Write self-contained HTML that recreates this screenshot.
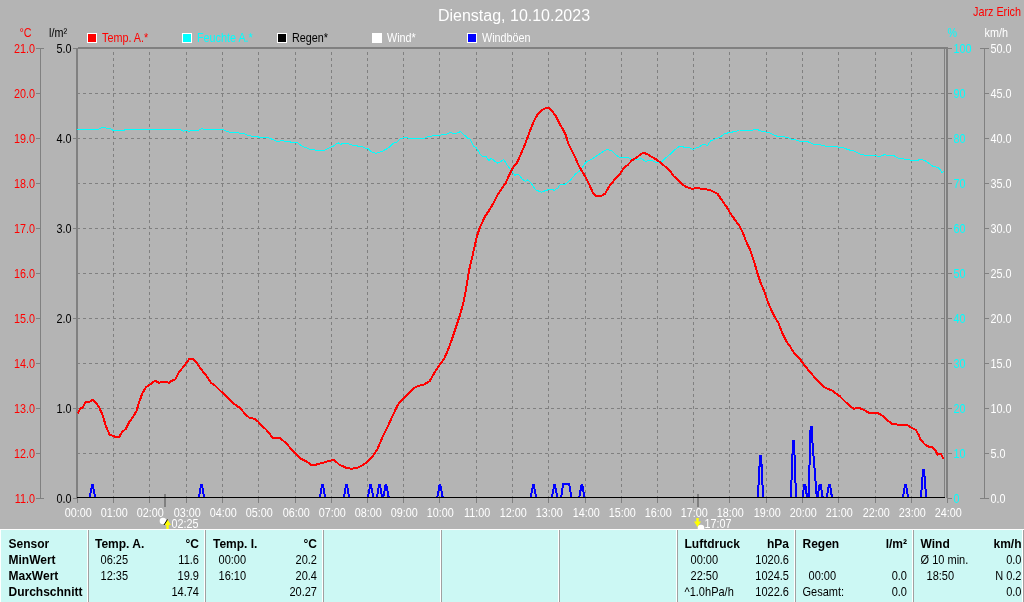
<!DOCTYPE html>
<html><head><meta charset="utf-8"><title>Dienstag, 10.10.2023</title>
<style>html,body{margin:0;padding:0;background:#b4b4b4;overflow:hidden;width:1024px;height:602px}</style>
</head><body>
<svg width="1024" height="602" viewBox="0 0 1024 602" style="display:block">
<rect x="0" y="0" width="1024" height="602" fill="#b4b4b4"/>
<g shape-rendering="crispEdges">
<line x1="77" y1="93.5" x2="944" y2="93.5" stroke="#808080" stroke-width="1" stroke-dasharray="3 3"/>
<line x1="77" y1="138.5" x2="944" y2="138.5" stroke="#808080" stroke-width="1" stroke-dasharray="3 3"/>
<line x1="77" y1="183.5" x2="944" y2="183.5" stroke="#808080" stroke-width="1" stroke-dasharray="3 3"/>
<line x1="77" y1="228.5" x2="944" y2="228.5" stroke="#808080" stroke-width="1" stroke-dasharray="3 3"/>
<line x1="77" y1="273.5" x2="944" y2="273.5" stroke="#808080" stroke-width="1" stroke-dasharray="3 3"/>
<line x1="77" y1="318.5" x2="944" y2="318.5" stroke="#808080" stroke-width="1" stroke-dasharray="3 3"/>
<line x1="77" y1="363.5" x2="944" y2="363.5" stroke="#808080" stroke-width="1" stroke-dasharray="3 3"/>
<line x1="77" y1="408.5" x2="944" y2="408.5" stroke="#808080" stroke-width="1" stroke-dasharray="3 3"/>
<line x1="77" y1="453.5" x2="944" y2="453.5" stroke="#808080" stroke-width="1" stroke-dasharray="3 3"/>
<line x1="113.5" y1="49" x2="113.5" y2="497" stroke="#808080" stroke-width="1" stroke-dasharray="3 3" stroke-dashoffset="3"/>
<line x1="149.5" y1="49" x2="149.5" y2="497" stroke="#808080" stroke-width="1" stroke-dasharray="3 3" stroke-dashoffset="3"/>
<line x1="186.5" y1="49" x2="186.5" y2="497" stroke="#808080" stroke-width="1" stroke-dasharray="3 3" stroke-dashoffset="3"/>
<line x1="222.5" y1="49" x2="222.5" y2="497" stroke="#808080" stroke-width="1" stroke-dasharray="3 3" stroke-dashoffset="3"/>
<line x1="258.5" y1="49" x2="258.5" y2="497" stroke="#808080" stroke-width="1" stroke-dasharray="3 3" stroke-dashoffset="3"/>
<line x1="295.5" y1="49" x2="295.5" y2="497" stroke="#808080" stroke-width="1" stroke-dasharray="3 3" stroke-dashoffset="3"/>
<line x1="331.5" y1="49" x2="331.5" y2="497" stroke="#808080" stroke-width="1" stroke-dasharray="3 3" stroke-dashoffset="3"/>
<line x1="367.5" y1="49" x2="367.5" y2="497" stroke="#808080" stroke-width="1" stroke-dasharray="3 3" stroke-dashoffset="3"/>
<line x1="403.5" y1="49" x2="403.5" y2="497" stroke="#808080" stroke-width="1" stroke-dasharray="3 3" stroke-dashoffset="3"/>
<line x1="439.5" y1="49" x2="439.5" y2="497" stroke="#808080" stroke-width="1" stroke-dasharray="3 3" stroke-dashoffset="3"/>
<line x1="476.5" y1="49" x2="476.5" y2="497" stroke="#808080" stroke-width="1" stroke-dasharray="3 3" stroke-dashoffset="3"/>
<line x1="512.5" y1="49" x2="512.5" y2="497" stroke="#808080" stroke-width="1" stroke-dasharray="3 3" stroke-dashoffset="3"/>
<line x1="548.5" y1="49" x2="548.5" y2="497" stroke="#808080" stroke-width="1" stroke-dasharray="3 3" stroke-dashoffset="3"/>
<line x1="585.5" y1="49" x2="585.5" y2="497" stroke="#808080" stroke-width="1" stroke-dasharray="3 3" stroke-dashoffset="3"/>
<line x1="621.5" y1="49" x2="621.5" y2="497" stroke="#808080" stroke-width="1" stroke-dasharray="3 3" stroke-dashoffset="3"/>
<line x1="657.5" y1="49" x2="657.5" y2="497" stroke="#808080" stroke-width="1" stroke-dasharray="3 3" stroke-dashoffset="3"/>
<line x1="693.5" y1="49" x2="693.5" y2="497" stroke="#808080" stroke-width="1" stroke-dasharray="3 3" stroke-dashoffset="3"/>
<line x1="729.5" y1="49" x2="729.5" y2="497" stroke="#808080" stroke-width="1" stroke-dasharray="3 3" stroke-dashoffset="3"/>
<line x1="766.5" y1="49" x2="766.5" y2="497" stroke="#808080" stroke-width="1" stroke-dasharray="3 3" stroke-dashoffset="3"/>
<line x1="802.5" y1="49" x2="802.5" y2="497" stroke="#808080" stroke-width="1" stroke-dasharray="3 3" stroke-dashoffset="3"/>
<line x1="838.5" y1="49" x2="838.5" y2="497" stroke="#808080" stroke-width="1" stroke-dasharray="3 3" stroke-dashoffset="3"/>
<line x1="875.5" y1="49" x2="875.5" y2="497" stroke="#808080" stroke-width="1" stroke-dasharray="3 3" stroke-dashoffset="3"/>
<line x1="911.5" y1="49" x2="911.5" y2="497" stroke="#808080" stroke-width="1" stroke-dasharray="3 3" stroke-dashoffset="3"/>
<rect x="77" y="498" width="1" height="5" fill="#808080"/>
<rect x="113" y="498" width="1" height="5" fill="#808080"/>
<rect x="149" y="498" width="1" height="5" fill="#808080"/>
<rect x="186" y="498" width="1" height="5" fill="#808080"/>
<rect x="222" y="498" width="1" height="5" fill="#808080"/>
<rect x="258" y="498" width="1" height="5" fill="#808080"/>
<rect x="295" y="498" width="1" height="5" fill="#808080"/>
<rect x="331" y="498" width="1" height="5" fill="#808080"/>
<rect x="367" y="498" width="1" height="5" fill="#808080"/>
<rect x="403" y="498" width="1" height="5" fill="#808080"/>
<rect x="439" y="498" width="1" height="5" fill="#808080"/>
<rect x="476" y="498" width="1" height="5" fill="#808080"/>
<rect x="512" y="498" width="1" height="5" fill="#808080"/>
<rect x="548" y="498" width="1" height="5" fill="#808080"/>
<rect x="585" y="498" width="1" height="5" fill="#808080"/>
<rect x="621" y="498" width="1" height="5" fill="#808080"/>
<rect x="657" y="498" width="1" height="5" fill="#808080"/>
<rect x="693" y="498" width="1" height="5" fill="#808080"/>
<rect x="729" y="498" width="1" height="5" fill="#808080"/>
<rect x="766" y="498" width="1" height="5" fill="#808080"/>
<rect x="802" y="498" width="1" height="5" fill="#808080"/>
<rect x="838" y="498" width="1" height="5" fill="#808080"/>
<rect x="875" y="498" width="1" height="5" fill="#808080"/>
<rect x="911" y="498" width="1" height="5" fill="#808080"/>
<rect x="947" y="498" width="1" height="5" fill="#808080"/>
<rect x="164" y="494" width="2" height="13" fill="#808080"/>
<rect x="697" y="494" width="2" height="13" fill="#808080"/>
<rect x="78" y="47" width="870" height="2" fill="#808080"/>
<rect x="76" y="48" width="2" height="450" fill="#808080"/>
<rect x="946" y="47" width="2" height="451" fill="#808080"/>
<rect x="944" y="48" width="1" height="450" fill="#808080"/>
<rect x="40" y="48" width="1" height="451" fill="#808080"/>
<rect x="36" y="48" width="8" height="1" fill="#808080"/>
<rect x="36" y="498" width="8" height="1" fill="#808080"/>
<rect x="36" y="93" width="4" height="1" fill="#808080"/>
<rect x="36" y="138" width="4" height="1" fill="#808080"/>
<rect x="36" y="183" width="4" height="1" fill="#808080"/>
<rect x="36" y="228" width="4" height="1" fill="#808080"/>
<rect x="36" y="273" width="4" height="1" fill="#808080"/>
<rect x="36" y="318" width="4" height="1" fill="#808080"/>
<rect x="36" y="363" width="4" height="1" fill="#808080"/>
<rect x="36" y="408" width="4" height="1" fill="#808080"/>
<rect x="36" y="453" width="4" height="1" fill="#808080"/>
<rect x="36" y="498" width="4" height="1" fill="#808080"/>
<rect x="36" y="543" width="4" height="1" fill="#808080"/>
<rect x="73" y="48" width="5" height="1" fill="#808080"/>
<rect x="73" y="138" width="4" height="1" fill="#808080"/>
<rect x="73" y="228" width="4" height="1" fill="#808080"/>
<rect x="73" y="318" width="4" height="1" fill="#808080"/>
<rect x="73" y="408" width="4" height="1" fill="#808080"/>
<rect x="73" y="498" width="4" height="1" fill="#808080"/>
<rect x="948" y="48" width="4" height="1" fill="#808080"/>
<rect x="948" y="93" width="4" height="1" fill="#808080"/>
<rect x="948" y="138" width="4" height="1" fill="#808080"/>
<rect x="948" y="183" width="4" height="1" fill="#808080"/>
<rect x="948" y="228" width="4" height="1" fill="#808080"/>
<rect x="948" y="273" width="4" height="1" fill="#808080"/>
<rect x="948" y="318" width="4" height="1" fill="#808080"/>
<rect x="948" y="363" width="4" height="1" fill="#808080"/>
<rect x="948" y="408" width="4" height="1" fill="#808080"/>
<rect x="948" y="453" width="4" height="1" fill="#808080"/>
<rect x="948" y="498" width="4" height="1" fill="#808080"/>
<rect x="948" y="543" width="4" height="1" fill="#808080"/>
<rect x="984" y="48" width="1" height="451" fill="#808080"/>
<rect x="980" y="48" width="9" height="1" fill="#808080"/>
<rect x="980" y="498" width="9" height="1" fill="#808080"/>
<rect x="985" y="93" width="4" height="1" fill="#808080"/>
<rect x="985" y="138" width="4" height="1" fill="#808080"/>
<rect x="985" y="183" width="4" height="1" fill="#808080"/>
<rect x="985" y="228" width="4" height="1" fill="#808080"/>
<rect x="985" y="273" width="4" height="1" fill="#808080"/>
<rect x="985" y="318" width="4" height="1" fill="#808080"/>
<rect x="985" y="363" width="4" height="1" fill="#808080"/>
<rect x="985" y="408" width="4" height="1" fill="#808080"/>
<rect x="985" y="453" width="4" height="1" fill="#808080"/>
<rect x="985" y="498" width="4" height="1" fill="#808080"/>
<rect x="985" y="543" width="4" height="1" fill="#808080"/>
</g>
<polyline points="77,129.4 98.1,129.4 101.6,127.7 105.1,127.7 106.9,128.4 110.4,128.4 113.1,130.5 123.6,130.5 125.4,129.4 179.8,129.4 183.4,131.3 186,130.5 188.6,131.3 191.3,130.5 198.3,130.5 201.8,128.4 203.6,129.4 222.9,129.4 225.5,130.8 230,132.2 237.8,132.6 239.6,133.3 244,133.6 248.5,135.5 252,136.3 257.3,136.7 259.9,137.4 267.8,137.4 271.4,139 276.6,141.3 279.3,141.3 281.9,140.4 284.5,141.3 288.9,141.3 290.7,142.1 296.8,142.1 299.5,144.3 303,146.7 307.4,148.1 310,149.3 313.5,149.3 316.2,150.9 323.2,150.9 325.8,149.5 328.5,148.1 332.9,146.4 335.5,144.6 338.1,142.8 340.8,144.3 343.4,143.2 346.9,143.2 350.4,144.6 353.1,145.5 356.6,145.5 358.4,146.4 361.9,146.4 365.4,148.1 368,148.5 370.7,151.3 373.3,152.5 375.9,153.4 378.6,152.5 382.1,151.3 385.6,149.5 388.2,148.1 391.8,144.6 394.4,142.5 397,142 399.7,139.3 402.3,138.1 405.8,137.2 408.4,138.3 424.6,138.3 427.2,137 431.6,136.2 433.4,135.5 439.5,135.5 442.2,134.4 446.6,134.1 450.1,132.3 452.7,133.4 457.1,133 460.6,131.6 464.1,134.9 467.7,138.1 470.3,139.3 472.1,142.8 473.8,146.4 476.4,147.8 479.1,152.5 481.7,156 486.1,156.6 488.8,160.8 491.4,158.3 494.9,161.3 497.5,163.1 500.2,161.8 503.7,159.5 506.7,164.3 510.2,169 514.9,175.2 518.4,174.1 521.9,178.7 525.3,181.5 527.7,179.9 531.2,183.4 535.8,189.9 541.6,192.2 546.3,190.3 550.9,189.2 554.4,190.3 557.9,188 560.2,184.5 564.9,184.5 570.7,179.9 575.3,174.1 580,170.6 585.8,162.4 594,157.8 600.9,153.1 604,150.9 607,149.5 612,150.9 615.9,154.9 619.9,157.8 624.9,157.8 626.9,156.9 631.9,159.8 636.9,159.8 640.8,158.2 645.8,161.4 648.8,160.2 652.8,160.8 656.8,162.8 661.8,161.8 665.7,157.8 670.7,153.9 674.7,149.9 678.7,146.9 681.7,146.3 685.7,147.9 688.6,147.5 692.6,149.5 696.6,147.9 699.6,146.9 702.6,144.3 707.6,145.3 710.6,140.9 715.5,138.9 719.5,137.5 724.5,133.9 729.5,132.4 735.5,131.6 739.4,130 752.3,130.4 754.4,129.4 757.4,129.4 760.5,131 764.6,131.4 766.7,132.4 769.7,133 774.9,135.5 777.9,136.5 783.1,136.5 788.2,137.6 791.3,139.2 795.4,139.6 799.5,141.3 805.6,141.3 809.7,142.3 813.8,144.3 819,144.7 824.1,145.4 826.1,146.4 836.4,146.4 839.5,147.4 843.6,147.8 848.7,149.9 852.8,150.5 855.9,151.9 860,154 863,154.4 865.1,155.6 875.4,155.6 878.4,156.4 881.5,156 884.6,154.4 887.7,155.6 893.8,155.6 897.9,158.1 904.1,159.1 910.2,160.1 918.4,160.1 920.5,159.1 924.6,160.5 928.7,163.2 932.8,166.3 937.9,167.3 940,169.3 942,172.8 944,170.8" fill="none" stroke="#00ffff" stroke-width="1" shape-rendering="crispEdges" stroke-linejoin="round"/>
<polyline points="89.8,497 92.1,484.5 92.7,484.5 95.0,497" fill="none" stroke="#0000ff" stroke-width="2" shape-rendering="crispEdges"/>
<polyline points="198.9,497 201.2,484.5 201.8,484.5 204.1,497" fill="none" stroke="#0000ff" stroke-width="2" shape-rendering="crispEdges"/>
<polyline points="319.9,497 322.2,484.5 322.8,484.5 325.1,497" fill="none" stroke="#0000ff" stroke-width="2" shape-rendering="crispEdges"/>
<polyline points="343.9,497 346.2,484.5 346.8,484.5 349.1,497" fill="none" stroke="#0000ff" stroke-width="2" shape-rendering="crispEdges"/>
<polyline points="368.0,497 370.3,484.5 370.9,484.5 373.2,497" fill="none" stroke="#0000ff" stroke-width="2" shape-rendering="crispEdges"/>
<polyline points="376.9,497 379.2,484.5 379.8,484.5 382.1,497" fill="none" stroke="#0000ff" stroke-width="2" shape-rendering="crispEdges"/>
<polyline points="383.4,497 385.7,484.5 386.3,484.5 388.6,497" fill="none" stroke="#0000ff" stroke-width="2" shape-rendering="crispEdges"/>
<polyline points="437.4,497 439.7,484.5 440.3,484.5 442.6,497" fill="none" stroke="#0000ff" stroke-width="2" shape-rendering="crispEdges"/>
<polyline points="530.8,497 533.1,484.5 533.7,484.5 536.0,497" fill="none" stroke="#0000ff" stroke-width="2" shape-rendering="crispEdges"/>
<polyline points="552.0,497 554.3,484.5 554.9,484.5 557.2,497" fill="none" stroke="#0000ff" stroke-width="2" shape-rendering="crispEdges"/>
<polyline points="579.3,497 581.6,484.5 582.2,484.5 584.5,497" fill="none" stroke="#0000ff" stroke-width="2" shape-rendering="crispEdges"/>
<polyline points="902.9,497 905.2,484.5 905.8,484.5 908.1,497" fill="none" stroke="#0000ff" stroke-width="2" shape-rendering="crispEdges"/>
<polyline points="561.2,497 563.2,483.5 569,483.5 571.5,497" fill="none" stroke="#0000ff" stroke-width="2" shape-rendering="crispEdges"/>
<polyline points="757.9,497 760.1,455.5 761.1,455.5 763.1,497" fill="none" stroke="#0000ff" stroke-width="2" shape-rendering="crispEdges"/>
<polyline points="790.9,497 793.0,440.5 794.0,440.5 796.0,497" fill="none" stroke="#0000ff" stroke-width="2" shape-rendering="crispEdges"/>
<polyline points="802.6,497 804.3,484.5 805.3,484.5 807,497 808.6,497 810.6,426.5 811.6,426.5 812.8,448 814.5,468 816.4,493 817.5,497 819.6,484.5 820.6,484.5 822.6,497" fill="none" stroke="#0000ff" stroke-width="2" shape-rendering="crispEdges"/>
<polyline points="826.9,497 828.9,484.5 829.9,484.5 831.9,497" fill="none" stroke="#0000ff" stroke-width="2" shape-rendering="crispEdges"/>
<polyline points="921,497 923.1,469.5 924.0,469.5 926.1,497" fill="none" stroke="#0000ff" stroke-width="2" shape-rendering="crispEdges"/>
<polyline points="78,413.3 80.2,408.6 82.7,407.3 85.7,401.7 89.8,401.7 92.9,399.7 95.4,402.2 99.2,407.3 102.5,414.9 105.6,425.1 109.4,434.5 114.4,436.5 119.5,436.5 122.1,431.9 125.9,428.9 129.7,421.3 133.5,416.2 136.5,411.1 139.1,402.2 142.4,393.3 146.2,387 150,384.4 155.1,380.6 158.9,382.7 164,381.9 169,382.7 172.8,380.1 175.4,379.4 179.2,371.7 183,367.4 186.8,362.3 189.3,359 193.2,359 197,363.4 202,370.5 207.1,376.8 210.9,382.7 214.7,385.2 222.4,392.8 230,400.4 236.3,405.5 240.1,408.1 245.2,414.1 249,417.5 254.1,418.7 257.9,421.3 261.7,425.8 265.5,428.9 270.6,435.2 273.1,437.8 279.5,437.8 285.8,442.8 290.9,448.7 297.3,455.5 301.1,458.8 307.4,461.9 311.2,465.2 315.1,464.9 318.9,463.9 324,462.5 330.2,460.6 334,459.9 339,464.4 345.4,467.5 350.5,468.7 356.8,468.2 361.9,465.7 367,461.9 373.3,455.5 377.1,449.7 382.2,437.8 387.3,427.6 392.4,416.2 397.5,405.5 401.3,400.4 407.6,394.6 412.7,388.8 417.8,386.2 424.1,384.4 429.7,381.1 434.3,373 439.3,365.4 443.9,359 447,352.7 448.1,349.5 450.8,342.5 452.8,336.7 456.3,326.3 459.8,315.8 463.3,303 465.6,291.4 467.9,277.4 469.8,267 472.6,255.3 474.9,244.9 477.2,235.6 479.5,228.6 481.5,224 485,216.5 489.3,210.1 494,202 497.4,195 502.1,188 505.6,183.4 509.1,175.2 512.6,168.3 517.2,162.4 520.7,154.3 524.2,146.2 527.7,136.9 531.2,127.6 534.7,119.4 538.1,113.6 541.6,110.1 546.3,107.8 548.6,107.8 552.1,111.3 555.6,115.9 559.1,122.9 562.6,128.7 566,135.7 568.4,143.8 571.9,150.8 575.3,157.8 578.8,165.9 582.3,171.7 585.8,177.6 589.3,184.5 592.8,192.7 596.3,196.2 600.9,196.2 605,193.7 609,186.7 613.9,180.4 618.9,175.4 623.9,167.8 627.9,164.8 631.9,160.4 636.9,157.5 640.8,153.9 643.8,152.9 647.8,154.3 651.8,156.9 656.8,159.8 661.8,163.8 666.7,167.8 670.7,171.8 673.7,176.2 677.7,179.8 681.7,184.1 685.7,186.7 691.6,188.7 697.6,188.1 703.6,189.3 709.6,189.7 713.5,191.7 717.5,193.7 721.5,199.7 726.5,206.7 730.5,213.6 735.5,220.6 739.4,225.6 742.4,231.6 745.8,240.5 750.5,250.9 754,261.4 757.4,273 760.9,283.5 764.4,291.6 767.9,302.1 771.4,310.2 774.9,317.2 778.4,323 781.9,332.3 786.5,341.6 790,346.3 793.5,352.1 799.3,357.9 802.8,363.2 805,366 809,370.9 813,375.5 818,380.9 822.9,386.3 827.9,388.9 831.9,390.5 835.9,393.5 839.9,396.3 844.9,401.5 849.9,405.9 853.9,408.8 858.8,407.8 863.8,409.8 868.8,412.8 875.8,412.8 879.8,413.8 884.8,417.8 888.8,421.4 891.8,423.8 898.7,424.8 907.7,425.4 911.7,427.8 915.7,429.8 918.7,434.8 920.7,439.8 924.7,444.2 928.7,446.7 931.7,447.1 935.6,450.7 937.6,454.7 940.6,453.7 943.6,458.7" fill="none" stroke="#ff0000" stroke-width="2" shape-rendering="crispEdges" stroke-linejoin="round"/>
<rect x="77" y="497" width="868" height="1" fill="#000"/>
<g><rect x="87.5" y="33.5" width="9" height="9" fill="#ff0000" stroke="#ffffff" stroke-width="1"/><rect x="182.5" y="33.5" width="9" height="9" fill="#00ffff" stroke="#ffffff" stroke-width="1"/><rect x="277.5" y="33.5" width="9" height="9" fill="#000000" stroke="#ffffff" stroke-width="1"/><rect x="372.5" y="33.5" width="9" height="9" fill="#ffffff" stroke="#ffffff" stroke-width="1"/><rect x="467.5" y="33.5" width="9" height="9" fill="#0000ff" stroke="#ffffff" stroke-width="1"/></g>
<g font-family="'Liberation Sans', Arial, sans-serif"><text x="514" y="21" fill="#ffffff" font-size="16" text-anchor="middle" font-weight="normal" >Dienstag, 10.10.2023</text><text transform="translate(1021 16) scale(0.9 1)" fill="#ff0000" font-size="12" text-anchor="end" font-weight="normal" >Jarz Erich</text><text transform="translate(19.5 37) scale(0.9 1)" fill="#ff0000" font-size="12" text-anchor="start" font-weight="normal" >°C</text><text transform="translate(49 37) scale(0.9 1)" fill="#000000" font-size="12" text-anchor="start" font-weight="normal" >l/m²</text><text transform="translate(947.5 36.5) scale(0.9 1)" fill="#00ffff" font-size="12" text-anchor="start" font-weight="normal" >%</text><text transform="translate(984.5 37) scale(0.9 1)" fill="#ffffff" font-size="12" text-anchor="start" font-weight="normal" >km/h</text><text transform="translate(102 42) scale(0.9 1)" fill="#ff0000" font-size="12" text-anchor="start" font-weight="normal" >Temp. A.*</text><text transform="translate(197 42) scale(0.9 1)" fill="#00ffff" font-size="12" text-anchor="start" font-weight="normal" >Feuchte A.*</text><text transform="translate(292 42) scale(0.9 1)" fill="#000000" font-size="12" text-anchor="start" font-weight="normal" >Regen*</text><text transform="translate(387 42) scale(0.9 1)" fill="#ffffff" font-size="12" text-anchor="start" font-weight="normal" >Wind*</text><text transform="translate(482 42) scale(0.9 1)" fill="#ffffff" font-size="12" text-anchor="start" font-weight="normal" >Windböen</text><text transform="translate(35 53) scale(0.9 1)" fill="#ff0000" font-size="12" text-anchor="end" font-weight="normal" >21.0</text><text transform="translate(35 98) scale(0.9 1)" fill="#ff0000" font-size="12" text-anchor="end" font-weight="normal" >20.0</text><text transform="translate(35 143) scale(0.9 1)" fill="#ff0000" font-size="12" text-anchor="end" font-weight="normal" >19.0</text><text transform="translate(35 188) scale(0.9 1)" fill="#ff0000" font-size="12" text-anchor="end" font-weight="normal" >18.0</text><text transform="translate(35 233) scale(0.9 1)" fill="#ff0000" font-size="12" text-anchor="end" font-weight="normal" >17.0</text><text transform="translate(35 278) scale(0.9 1)" fill="#ff0000" font-size="12" text-anchor="end" font-weight="normal" >16.0</text><text transform="translate(35 323) scale(0.9 1)" fill="#ff0000" font-size="12" text-anchor="end" font-weight="normal" >15.0</text><text transform="translate(35 368) scale(0.9 1)" fill="#ff0000" font-size="12" text-anchor="end" font-weight="normal" >14.0</text><text transform="translate(35 413) scale(0.9 1)" fill="#ff0000" font-size="12" text-anchor="end" font-weight="normal" >13.0</text><text transform="translate(35 458) scale(0.9 1)" fill="#ff0000" font-size="12" text-anchor="end" font-weight="normal" >12.0</text><text transform="translate(35 503) scale(0.9 1)" fill="#ff0000" font-size="12" text-anchor="end" font-weight="normal" >11.0</text><text transform="translate(35 548) scale(0.9 1)" fill="#ff0000" font-size="12" text-anchor="end" font-weight="normal" >10.0</text><text transform="translate(71.5 53) scale(0.9 1)" fill="#000000" font-size="12" text-anchor="end" font-weight="normal" >5.0</text><text transform="translate(71.5 143) scale(0.9 1)" fill="#000000" font-size="12" text-anchor="end" font-weight="normal" >4.0</text><text transform="translate(71.5 233) scale(0.9 1)" fill="#000000" font-size="12" text-anchor="end" font-weight="normal" >3.0</text><text transform="translate(71.5 323) scale(0.9 1)" fill="#000000" font-size="12" text-anchor="end" font-weight="normal" >2.0</text><text transform="translate(71.5 413) scale(0.9 1)" fill="#000000" font-size="12" text-anchor="end" font-weight="normal" >1.0</text><text transform="translate(71.5 503) scale(0.9 1)" fill="#000000" font-size="12" text-anchor="end" font-weight="normal" >0.0</text><text transform="translate(953.5 53) scale(0.9 1)" fill="#00ffff" font-size="12" text-anchor="start" font-weight="normal" >100</text><text transform="translate(990.5 53) scale(0.9 1)" fill="#ffffff" font-size="12" text-anchor="start" font-weight="normal" >50.0</text><text transform="translate(953.5 98) scale(0.9 1)" fill="#00ffff" font-size="12" text-anchor="start" font-weight="normal" >90</text><text transform="translate(990.5 98) scale(0.9 1)" fill="#ffffff" font-size="12" text-anchor="start" font-weight="normal" >45.0</text><text transform="translate(953.5 143) scale(0.9 1)" fill="#00ffff" font-size="12" text-anchor="start" font-weight="normal" >80</text><text transform="translate(990.5 143) scale(0.9 1)" fill="#ffffff" font-size="12" text-anchor="start" font-weight="normal" >40.0</text><text transform="translate(953.5 188) scale(0.9 1)" fill="#00ffff" font-size="12" text-anchor="start" font-weight="normal" >70</text><text transform="translate(990.5 188) scale(0.9 1)" fill="#ffffff" font-size="12" text-anchor="start" font-weight="normal" >35.0</text><text transform="translate(953.5 233) scale(0.9 1)" fill="#00ffff" font-size="12" text-anchor="start" font-weight="normal" >60</text><text transform="translate(990.5 233) scale(0.9 1)" fill="#ffffff" font-size="12" text-anchor="start" font-weight="normal" >30.0</text><text transform="translate(953.5 278) scale(0.9 1)" fill="#00ffff" font-size="12" text-anchor="start" font-weight="normal" >50</text><text transform="translate(990.5 278) scale(0.9 1)" fill="#ffffff" font-size="12" text-anchor="start" font-weight="normal" >25.0</text><text transform="translate(953.5 323) scale(0.9 1)" fill="#00ffff" font-size="12" text-anchor="start" font-weight="normal" >40</text><text transform="translate(990.5 323) scale(0.9 1)" fill="#ffffff" font-size="12" text-anchor="start" font-weight="normal" >20.0</text><text transform="translate(953.5 368) scale(0.9 1)" fill="#00ffff" font-size="12" text-anchor="start" font-weight="normal" >30</text><text transform="translate(990.5 368) scale(0.9 1)" fill="#ffffff" font-size="12" text-anchor="start" font-weight="normal" >15.0</text><text transform="translate(953.5 413) scale(0.9 1)" fill="#00ffff" font-size="12" text-anchor="start" font-weight="normal" >20</text><text transform="translate(990.5 413) scale(0.9 1)" fill="#ffffff" font-size="12" text-anchor="start" font-weight="normal" >10.0</text><text transform="translate(953.5 458) scale(0.9 1)" fill="#00ffff" font-size="12" text-anchor="start" font-weight="normal" >10</text><text transform="translate(990.5 458) scale(0.9 1)" fill="#ffffff" font-size="12" text-anchor="start" font-weight="normal" >5.0</text><text transform="translate(953.5 503) scale(0.9 1)" fill="#00ffff" font-size="12" text-anchor="start" font-weight="normal" >0</text><text transform="translate(990.5 503) scale(0.9 1)" fill="#ffffff" font-size="12" text-anchor="start" font-weight="normal" >0.0</text><text transform="translate(953.5 548) scale(0.9 1)" fill="#00ffff" font-size="12" text-anchor="start" font-weight="normal" >-10</text><text transform="translate(990.5 548) scale(0.9 1)" fill="#ffffff" font-size="12" text-anchor="start" font-weight="normal" >-5.0</text><text transform="translate(78.2 517) scale(0.9 1)" fill="#ffffff" font-size="12" text-anchor="middle" font-weight="normal" >00:00</text><text transform="translate(114.2 517) scale(0.9 1)" fill="#ffffff" font-size="12" text-anchor="middle" font-weight="normal" >01:00</text><text transform="translate(150.2 517) scale(0.9 1)" fill="#ffffff" font-size="12" text-anchor="middle" font-weight="normal" >02:00</text><text transform="translate(187.2 517) scale(0.9 1)" fill="#ffffff" font-size="12" text-anchor="middle" font-weight="normal" >03:00</text><text transform="translate(223.2 517) scale(0.9 1)" fill="#ffffff" font-size="12" text-anchor="middle" font-weight="normal" >04:00</text><text transform="translate(259.2 517) scale(0.9 1)" fill="#ffffff" font-size="12" text-anchor="middle" font-weight="normal" >05:00</text><text transform="translate(296.2 517) scale(0.9 1)" fill="#ffffff" font-size="12" text-anchor="middle" font-weight="normal" >06:00</text><text transform="translate(332.2 517) scale(0.9 1)" fill="#ffffff" font-size="12" text-anchor="middle" font-weight="normal" >07:00</text><text transform="translate(368.2 517) scale(0.9 1)" fill="#ffffff" font-size="12" text-anchor="middle" font-weight="normal" >08:00</text><text transform="translate(404.2 517) scale(0.9 1)" fill="#ffffff" font-size="12" text-anchor="middle" font-weight="normal" >09:00</text><text transform="translate(440.2 517) scale(0.9 1)" fill="#ffffff" font-size="12" text-anchor="middle" font-weight="normal" >10:00</text><text transform="translate(477.2 517) scale(0.9 1)" fill="#ffffff" font-size="12" text-anchor="middle" font-weight="normal" >11:00</text><text transform="translate(513.2 517) scale(0.9 1)" fill="#ffffff" font-size="12" text-anchor="middle" font-weight="normal" >12:00</text><text transform="translate(549.2 517) scale(0.9 1)" fill="#ffffff" font-size="12" text-anchor="middle" font-weight="normal" >13:00</text><text transform="translate(586.2 517) scale(0.9 1)" fill="#ffffff" font-size="12" text-anchor="middle" font-weight="normal" >14:00</text><text transform="translate(622.2 517) scale(0.9 1)" fill="#ffffff" font-size="12" text-anchor="middle" font-weight="normal" >15:00</text><text transform="translate(658.2 517) scale(0.9 1)" fill="#ffffff" font-size="12" text-anchor="middle" font-weight="normal" >16:00</text><text transform="translate(694.2 517) scale(0.9 1)" fill="#ffffff" font-size="12" text-anchor="middle" font-weight="normal" >17:00</text><text transform="translate(730.2 517) scale(0.9 1)" fill="#ffffff" font-size="12" text-anchor="middle" font-weight="normal" >18:00</text><text transform="translate(767.2 517) scale(0.9 1)" fill="#ffffff" font-size="12" text-anchor="middle" font-weight="normal" >19:00</text><text transform="translate(803.2 517) scale(0.9 1)" fill="#ffffff" font-size="12" text-anchor="middle" font-weight="normal" >20:00</text><text transform="translate(839.2 517) scale(0.9 1)" fill="#ffffff" font-size="12" text-anchor="middle" font-weight="normal" >21:00</text><text transform="translate(876.2 517) scale(0.9 1)" fill="#ffffff" font-size="12" text-anchor="middle" font-weight="normal" >22:00</text><text transform="translate(912.2 517) scale(0.9 1)" fill="#ffffff" font-size="12" text-anchor="middle" font-weight="normal" >23:00</text><text transform="translate(948.2 517) scale(0.9 1)" fill="#ffffff" font-size="12" text-anchor="middle" font-weight="normal" >24:00</text><text transform="translate(171.5 528) scale(0.9 1)" fill="#ffffff" font-size="12" text-anchor="start" font-weight="normal" >02:25</text><text transform="translate(704.5 528) scale(0.9 1)" fill="#ffffff" font-size="12" text-anchor="start" font-weight="normal" >17:07</text></g>
<circle cx="163" cy="521" r="3.3" fill="#ffffff"/>
<polygon points="167.5,519.5 164,525 166.3,525 166.3,529 168.7,529 168.7,525 171,525" fill="#ffff00"/>
<polyline points="167.5,519.5 164,525" stroke="#000" stroke-width="1" fill="none"/>
<polygon points="697.5,527 694,521.5 696.3,521.5 696.3,518 698.7,518 698.7,521.5 701,521.5" fill="#ffff00"/>
<circle cx="701" cy="528" r="3.3" fill="#ffffff"/>
<rect x="0" y="529" width="1024" height="73" fill="#ccf8f4"/>
<rect x="0" y="529" width="1024" height="1" fill="#ffffff"/>
<rect x="0" y="529" width="1" height="73" fill="#ffffff"/>
<rect x="87" y="530" width="1" height="72" fill="#ffffff"/>
<rect x="88" y="530" width="1" height="72" fill="#a0a0a0"/>
<rect x="204" y="530" width="1" height="72" fill="#ffffff"/>
<rect x="205" y="530" width="1" height="72" fill="#a0a0a0"/>
<rect x="322" y="530" width="1" height="72" fill="#ffffff"/>
<rect x="323" y="530" width="1" height="72" fill="#a0a0a0"/>
<rect x="440" y="530" width="1" height="72" fill="#ffffff"/>
<rect x="441" y="530" width="1" height="72" fill="#a0a0a0"/>
<rect x="558" y="530" width="1" height="72" fill="#ffffff"/>
<rect x="559" y="530" width="1" height="72" fill="#a0a0a0"/>
<rect x="676" y="530" width="1" height="72" fill="#ffffff"/>
<rect x="677" y="530" width="1" height="72" fill="#a0a0a0"/>
<rect x="794" y="530" width="1" height="72" fill="#ffffff"/>
<rect x="795" y="530" width="1" height="72" fill="#a0a0a0"/>
<rect x="912" y="530" width="1" height="72" fill="#ffffff"/>
<rect x="913" y="530" width="1" height="72" fill="#a0a0a0"/>
<rect x="1022" y="530" width="1" height="72" fill="#ffffff"/>
<rect x="1023" y="530" width="1" height="72" fill="#a0a0a0"/>
<g font-family="'Liberation Sans', Arial, sans-serif" fill="#000000"><text transform="translate(8.5 548) scale(1.0 1)" text-anchor="start" font-weight="bold" font-size="12">Sensor</text><text transform="translate(8.5 564) scale(1.0 1)" text-anchor="start" font-weight="bold" font-size="12">MinWert</text><text transform="translate(8.5 580) scale(1.0 1)" text-anchor="start" font-weight="bold" font-size="12">MaxWert</text><text transform="translate(8.5 596) scale(1.0 1)" text-anchor="start" font-weight="bold" font-size="12">Durchschnitt</text><text transform="translate(95 548) scale(1.0 1)" text-anchor="start" font-weight="bold" font-size="12">Temp. A.</text><text transform="translate(199 548) scale(1.0 1)" text-anchor="end" font-weight="bold" font-size="12">°C</text><text transform="translate(100.5 564) scale(0.92 1)" text-anchor="start" font-weight="normal" font-size="12">06:25</text><text transform="translate(199 564) scale(0.92 1)" text-anchor="end" font-weight="normal" font-size="12">11.6</text><text transform="translate(100.5 580) scale(0.92 1)" text-anchor="start" font-weight="normal" font-size="12">12:35</text><text transform="translate(199 580) scale(0.92 1)" text-anchor="end" font-weight="normal" font-size="12">19.9</text><text transform="translate(199 596) scale(0.92 1)" text-anchor="end" font-weight="normal" font-size="12">14.74</text><text transform="translate(213 548) scale(1.0 1)" text-anchor="start" font-weight="bold" font-size="12">Temp. I.</text><text transform="translate(317 548) scale(1.0 1)" text-anchor="end" font-weight="bold" font-size="12">°C</text><text transform="translate(218.5 564) scale(0.92 1)" text-anchor="start" font-weight="normal" font-size="12">00:00</text><text transform="translate(317 564) scale(0.92 1)" text-anchor="end" font-weight="normal" font-size="12">20.2</text><text transform="translate(218.5 580) scale(0.92 1)" text-anchor="start" font-weight="normal" font-size="12">16:10</text><text transform="translate(317 580) scale(0.92 1)" text-anchor="end" font-weight="normal" font-size="12">20.4</text><text transform="translate(317 596) scale(0.92 1)" text-anchor="end" font-weight="normal" font-size="12">20.27</text><text transform="translate(684.5 548) scale(1.0 1)" text-anchor="start" font-weight="bold" font-size="12">Luftdruck</text><text transform="translate(789 548) scale(1.0 1)" text-anchor="end" font-weight="bold" font-size="12">hPa</text><text transform="translate(690.5 564) scale(0.92 1)" text-anchor="start" font-weight="normal" font-size="12">00:00</text><text transform="translate(789 564) scale(0.92 1)" text-anchor="end" font-weight="normal" font-size="12">1020.6</text><text transform="translate(690.5 580) scale(0.92 1)" text-anchor="start" font-weight="normal" font-size="12">22:50</text><text transform="translate(789 580) scale(0.92 1)" text-anchor="end" font-weight="normal" font-size="12">1024.5</text><text transform="translate(684.5 596) scale(0.92 1)" text-anchor="start" font-weight="normal" font-size="12">^1.0hPa/h</text><text transform="translate(789 596) scale(0.92 1)" text-anchor="end" font-weight="normal" font-size="12">1022.6</text><text transform="translate(802.5 548) scale(1.0 1)" text-anchor="start" font-weight="bold" font-size="12">Regen</text><text transform="translate(907 548) scale(1.0 1)" text-anchor="end" font-weight="bold" font-size="12">l/m²</text><text transform="translate(808.5 580) scale(0.92 1)" text-anchor="start" font-weight="normal" font-size="12">00:00</text><text transform="translate(907 580) scale(0.92 1)" text-anchor="end" font-weight="normal" font-size="12">0.0</text><text transform="translate(802.5 596) scale(0.92 1)" text-anchor="start" font-weight="normal" font-size="12">Gesamt:</text><text transform="translate(907 596) scale(0.92 1)" text-anchor="end" font-weight="normal" font-size="12">0.0</text><text transform="translate(920.5 548) scale(1.0 1)" text-anchor="start" font-weight="bold" font-size="12">Wind</text><text transform="translate(1021.5 548) scale(1.0 1)" text-anchor="end" font-weight="bold" font-size="12">km/h</text><text transform="translate(920.5 564) scale(0.92 1)" text-anchor="start" font-weight="normal" font-size="12">Ø 10 min.</text><text transform="translate(1021.5 564) scale(0.92 1)" text-anchor="end" font-weight="normal" font-size="12">0.0</text><text transform="translate(926.5 580) scale(0.92 1)" text-anchor="start" font-weight="normal" font-size="12">18:50</text><text transform="translate(1021.5 580) scale(0.92 1)" text-anchor="end" font-weight="normal" font-size="12">N 0.2</text><text transform="translate(1021.5 596) scale(0.92 1)" text-anchor="end" font-weight="normal" font-size="12">0.0</text></g>
</svg>
</body></html>
